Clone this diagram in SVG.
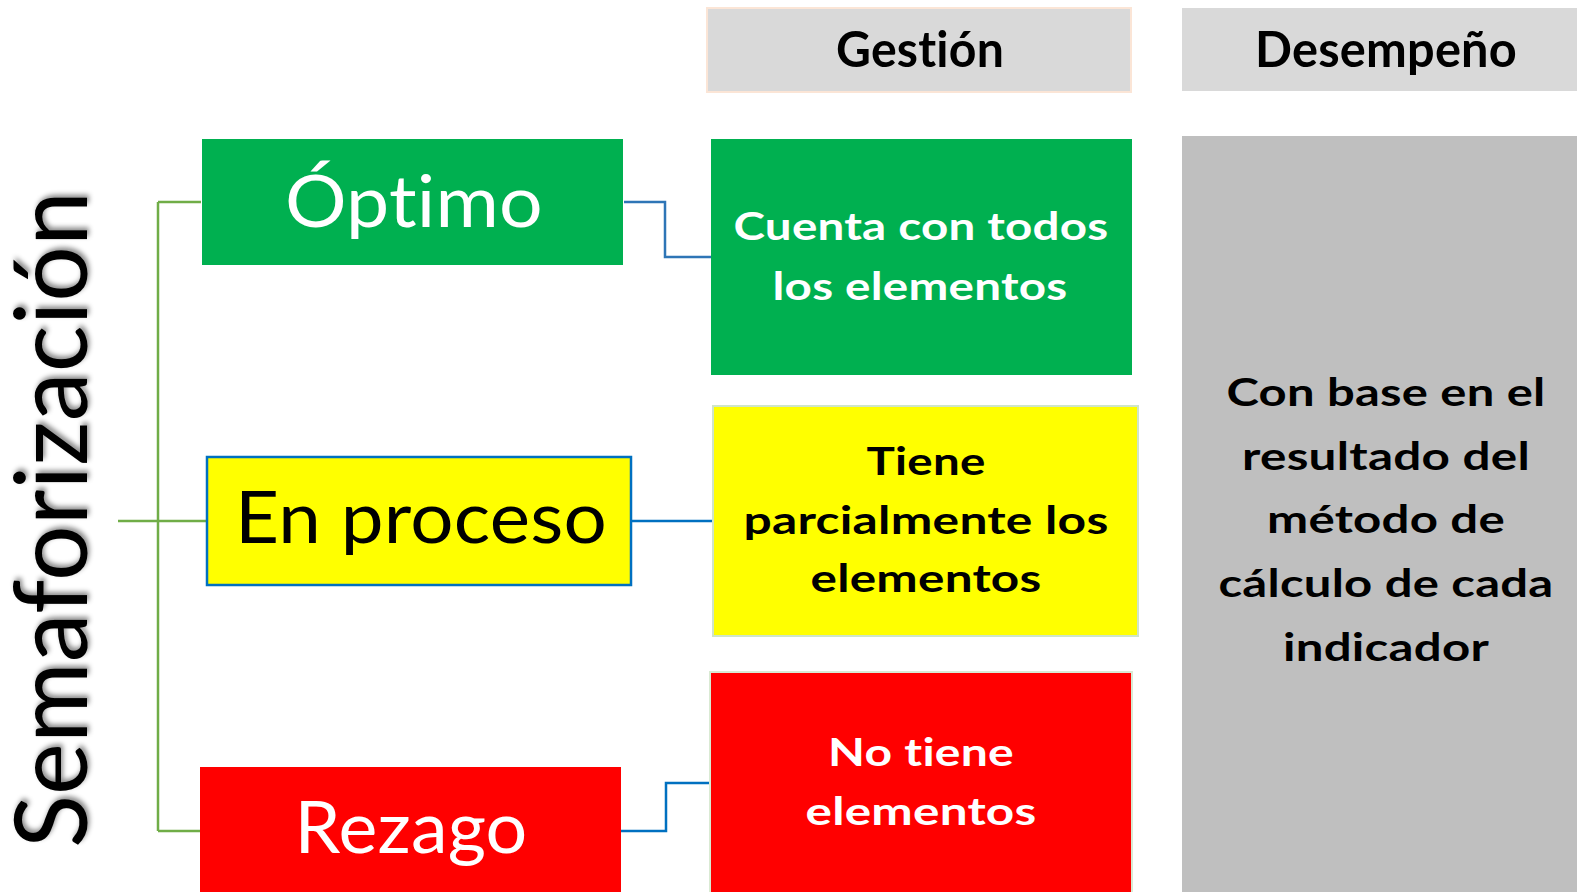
<svg xmlns="http://www.w3.org/2000/svg" width="1577" height="892" viewBox="0 0 1577 892">
<defs>
<filter id="shadow" x="-20%" y="-5%" width="140%" height="110%">
<feDropShadow dx="3" dy="2" stdDeviation="2.5" flood-color="#000" flood-opacity="0.45"/>
</filter>
<style>
.t{font-family:Lato,"Open Sans","Liberation Sans",sans-serif;text-anchor:middle;font-variant-ligatures:none;font-feature-settings:"liga" 0,"clig" 0,"dlig" 0,"calt" 0;letter-spacing:0.2px}
.b{font-weight:bold;font-size:39px}
.h{font-weight:bold;font-size:49px;fill:#000}
.big{font-size:71px}
.w{fill:#fff}
.k{fill:#000}
.green{fill:#00b050}
.yellow{fill:#ffff00}
.red{fill:#ff0000}
.gl{fill:none;stroke:#70ad47;stroke-width:2.5}
.bl{fill:none;stroke:#0070c0;stroke-width:2.5}
</style>
</defs>
<rect width="1577" height="892" fill="#fff"/>
<g id="title">
<text class="t" transform="translate(87,848) rotate(-90)" style="text-anchor:start;font-size:101px" fill="#000" filter="url(#shadow)" textLength="657" lengthAdjust="spacingAndGlyphs">Semaforización</text>
</g>
<g id="connectors">
<path class="gl" d="M158,202 V831 M158,202 H201 M118,521 H207 M158,831 H200"/>
<path class="bl" style="stroke:#2e75b6" d="M624,202 H665 V257 H711"/>
<path class="bl" d="M632,521 H713"/>
<path class="bl" d="M621,831 H666 V783 H710"/>
</g>
<g id="header-gestion">
<rect x="707" y="8" width="424" height="84" fill="#d9d9d9" stroke="#fbe5d6" stroke-width="2"/>
<text class="t h" x="920" y="67" textLength="168" lengthAdjust="spacingAndGlyphs">Gestión</text>
</g>
<g id="header-desempeno">
<rect x="1182" y="8" width="400" height="83" fill="#d9d9d9"/>
<text class="t h" x="1386" y="67" textLength="262" lengthAdjust="spacingAndGlyphs">Desempeño</text>
</g>
<g id="optimo">
<rect class="green" x="202" y="139" width="421" height="126"/>
<text class="t big w" x="414" y="227" textLength="258" lengthAdjust="spacingAndGlyphs">Óptimo</text>
</g>
<g id="en-proceso">
<rect class="yellow" x="207" y="457" width="424" height="128" stroke="#0070c0" stroke-width="2.5"/>
<text class="t big k" x="421" y="543" textLength="372" lengthAdjust="spacingAndGlyphs">En proceso</text>
</g>
<g id="rezago">
<rect class="red" x="200" y="767" width="421" height="130"/>
<text class="t big w" x="411" y="853" textLength="233" lengthAdjust="spacingAndGlyphs">Rezago</text>
</g>
<g id="gestion-optimo">
<rect class="green" x="711" y="139" width="421" height="236"/>
<text class="t b w" x="921" y="240" textLength="375" lengthAdjust="spacingAndGlyphs">Cuenta con todos</text>
<text class="t b w" x="920" y="300" textLength="295" lengthAdjust="spacingAndGlyphs">los elementos</text>
</g>
<g id="gestion-proceso">
<rect class="yellow" x="713" y="406" width="425" height="230" stroke="#cfe5c8" stroke-width="2"/>
<text class="t b k" x="926" y="475" textLength="119" lengthAdjust="spacingAndGlyphs">Tiene</text>
<text class="t b k" x="926" y="534" textLength="365" lengthAdjust="spacingAndGlyphs">parcialmente los</text>
<text class="t b k" x="926" y="592" textLength="231" lengthAdjust="spacingAndGlyphs">elementos</text>
</g>
<g id="gestion-rezago">
<rect class="red" x="710" y="672" width="422" height="225" stroke="#d9ead3" stroke-width="2"/>
<text class="t b w" x="921" y="766" textLength="186" lengthAdjust="spacingAndGlyphs">No tiene</text>
<text class="t b w" x="921" y="825" textLength="231" lengthAdjust="spacingAndGlyphs">elementos</text>
</g>
<g id="desempeno">
<rect x="1182" y="136" width="400" height="760" fill="#bfbfbf"/>
<text class="t b k" x="1386" y="406" textLength="319" lengthAdjust="spacingAndGlyphs">Con base en el</text>
<text class="t b k" x="1386" y="470" textLength="288" lengthAdjust="spacingAndGlyphs">resultado del</text>
<text class="t b k" x="1386" y="533" textLength="238" lengthAdjust="spacingAndGlyphs">método de</text>
<text class="t b k" x="1386" y="597" textLength="335" lengthAdjust="spacingAndGlyphs">cálculo de cada</text>
<text class="t b k" x="1386" y="661" textLength="206" lengthAdjust="spacingAndGlyphs">indicador</text>
</g>
</svg>
